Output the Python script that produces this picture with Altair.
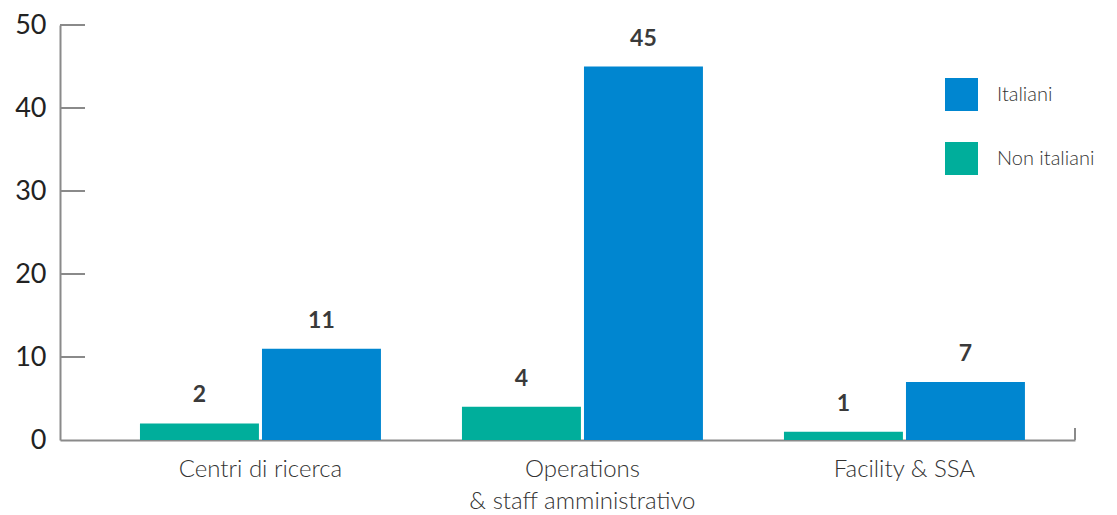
import altair as alt
import pandas as pd

categories = ["Centri di ricerca", "Operations\n& staff amministrativo", "Facility & SSA"]
series_order = ["Non italiani", "Italiani"]
legend_order = ["Italiani", "Non italiani"]
non_italiani = [2, 4, 1]
italiani = [11, 45, 7]
y_ticks = [0, 10, 20, 30, 40, 50]

BLUE = "#0086D0"
GREEN = "#00AE9B"
FONT = "Lato"

rows = []
for c, n, i in zip(categories, non_italiani, italiani):
    rows.append({"cat": c, "serie": "Non italiani", "val": n})
    rows.append({"cat": c, "serie": "Italiani", "val": i})
df = pd.DataFrame(rows)

xscale = alt.Scale(domain=categories, paddingInner=0.2516, paddingOuter=0.2019, align=0.615)
yscale = alt.Scale(domain=[0, 50], nice=False)

x_enc = alt.X(
    "cat:N",
    scale=xscale,
    sort=categories,
    axis=alt.Axis(
        title=None,
        labelExpr="split(datum.label, '\\n')",
        labelAngle=0,
        labelFont=FONT,
        labelFontSize=24,
        labelFontWeight=300,
        labelColor="#333333",
        labelLineHeight=32,
        labelPadding=17,
        labelBaseline="top",
        labelLimit=500,
        ticks=False,
        tickSize=0,
        domainColor="#8a8a8a",
        domainWidth=2,
        grid=False,
    ),
)
xoff = alt.XOffset(
    "serie:N",
    sort=series_order,
    scale=alt.Scale(domain=series_order, paddingInner=0.025, paddingOuter=0),
)

bars = alt.Chart(df).mark_bar().encode(
    x=x_enc,
    xOffset=xoff,
    y=alt.Y(
        "val:Q",
        scale=yscale,
        axis=alt.Axis(
            title=None,
            values=y_ticks,
            labelFont=FONT,
            labelFontSize=27,
            labelFontWeight=400,
            labelColor="#222222",
            labelPadding=14,
            ticks=False,
            tickSize=0,
            domainColor="#8a8a8a",
            domainWidth=2,
            grid=False,
        ),
    ),
    color=alt.Color(
        "serie:N",
        scale=alt.Scale(domain=legend_order, range=[BLUE, GREEN]),
        legend=alt.Legend(
            title=None,
            orient="none",
            legendX=885,
            legendY=53,
            symbolType="square",
            symbolSize=1089,
            symbolStrokeWidth=0,
            symbolOpacity=1,
            rowPadding=31,
            labelOffset=19,
            labelFont=FONT,
            labelFontSize=20,
            labelFontWeight=300,
            labelColor="#333333",
        ),
    ),
)

labels = alt.Chart(df).mark_text(
    baseline="bottom", dy=-16, font=FONT, fontSize=23, fontWeight="bold", color="#3a3a3a"
).encode(
    x=alt.X("cat:N", scale=xscale, sort=categories),
    xOffset=xoff,
    y=alt.Y("val:Q", scale=yscale),
    text=alt.Text("val:Q"),
)

tick_df = pd.DataFrame({"t": y_ticks[1:]})
yticks = alt.Chart(tick_df).mark_rule(color="#8a8a8a", strokeWidth=2).encode(
    y=alt.Y("t:Q", scale=yscale),
    x=alt.value(0),
    x2=alt.value(25),
)

corner = alt.Chart(pd.DataFrame({"a": [0]})).mark_rule(color="#8a8a8a", strokeWidth=2).encode(
    x=alt.value(1015), y=alt.value(403), y2=alt.value(415)
)

chart = alt.layer(bars, labels, yticks, corner).properties(
    width=1015,
    height=415,
    autosize=alt.AutoSizeParams(type="none"),
    padding={"left": 52, "top": 17, "right": 20, "bottom": 75},
).configure_view(stroke=None)

chart.save("out.html", embed_options={"renderer": "svg", "actions": False})
